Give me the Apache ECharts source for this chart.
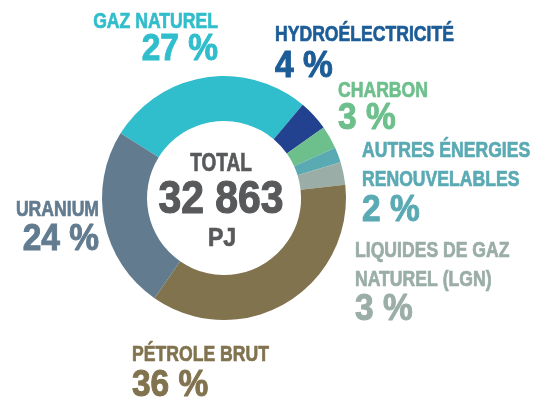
<!DOCTYPE html>
<html lang="fr">
	<head>
		<meta charset="UTF-8">
		<title>Énergie primaire</title>
		<script src="https://cdn.jsdelivr.net/npm/echarts@6/dist/echarts.min.js"></script>
		<style type="text/css">
			html, body {
				margin: 0;
				padding: 0;
				background: #ffffff;
			}
			#main {
				width: 537px;
				height: 401px;
			}
		</style>
	</head>
	<body>
		<div id="main"></div>
	</body>
	<script type="text/javascript">
		// données
		var sources = ['GAZ NATUREL', 'HYDROÉLECTRICITÉ', 'CHARBON', 'AUTRES ÉNERGIES\nRENOUVELABLES', 'LIQUIDES DE GAZ\nNATUREL (LGN)', 'PÉTROLE BRUT', 'URANIUM'];
		var parts = [27, 4, 3, 2, 3, 36, 24];
		var couleurs = ['#30bdcc', '#22418f', '#6dbf8c', '#5aaab4', '#9aada7', '#82734f', '#627b8f'];
		var couleursTexte = ['#30bdcc', '#1c5c97', '#6dbf8c', '#5aaab4', '#9aada7', '#82734f', '#627b8f'];
		var total = '32 863';
		var unite = 'PJ';

		// position des étiquettes (haut des majuscules)
		var etqX = [218, 275, 338, 362, 355, 132, 99];
		var etqNom = [13.5, 27, 83, 143, 243, 347, 202];
		var etqPct = [37, 54, 106, 198, 297, 373, 227];
		var etqAlign = ['right', 'left', 'left', 'left', 'left', 'left', 'right'];

		var police = '"Liberation Sans", Arial, sans-serif';

		// texte condensé : police normale resserrée, un peu épaissie
		function texte(s, x, haut, taille, couleur, align, serre, epais) {
			return {
				type: 'text',
				x: x,
				y: haut - 0.13 * taille,
				scaleX: serre,
				silent: true,
				style: {
					text: s,
					fill: couleur,
					stroke: couleur,
					lineWidth: epais,
					font: 'bold ' + taille + 'px ' + police,
					textAlign: align,
					textVerticalAlign: 'top'
				}
			};
		}

		var graphiques = [];
		for (var i = 0; i < sources.length; i++) {
			var lignes = sources[i].split('\n');
			for (var j = 0; j < lignes.length; j++) {
				graphiques.push(texte(lignes[j], etqX[i], etqNom[i] + j * 29, 22, couleursTexte[i], etqAlign[i], 0.8, 0.7));
			}
			graphiques.push(texte(parts[i] + ' %', etqX[i], etqPct[i], 36, couleursTexte[i], etqAlign[i], 0.93, 1));
		}
		graphiques.push(texte('TOTAL', 221, 155, 25, '#58595b', 'center', 0.76, 0.7));
		graphiques.push(texte(total, 221, 183, 47, '#58595b', 'center', 0.87, 1.2));
		graphiques.push(texte(unite, 222, 230, 25, '#58595b', 'center', 0.92, 0.7));

		var donnees = [];
		for (var k = 0; k < sources.length; k++) {
			donnees.push({
				name: sources[k],
				value: parts[k],
				itemStyle: { color: couleurs[k] }
			});
		}

		var chart = echarts.init(document.getElementById('main'));
		var option = {
			animation: false,
			graphic: graphiques,
			series: [{
				type: 'pie',
				center: [224, 198],
				radius: [77, 122],
				startAngle: 148,
				clockwise: true,
				silent: true,
				data: donnees,
				label: { show: false },
				labelLine: { show: false }
			}]
		};
		chart.setOption(option);
	</script>
</html>
